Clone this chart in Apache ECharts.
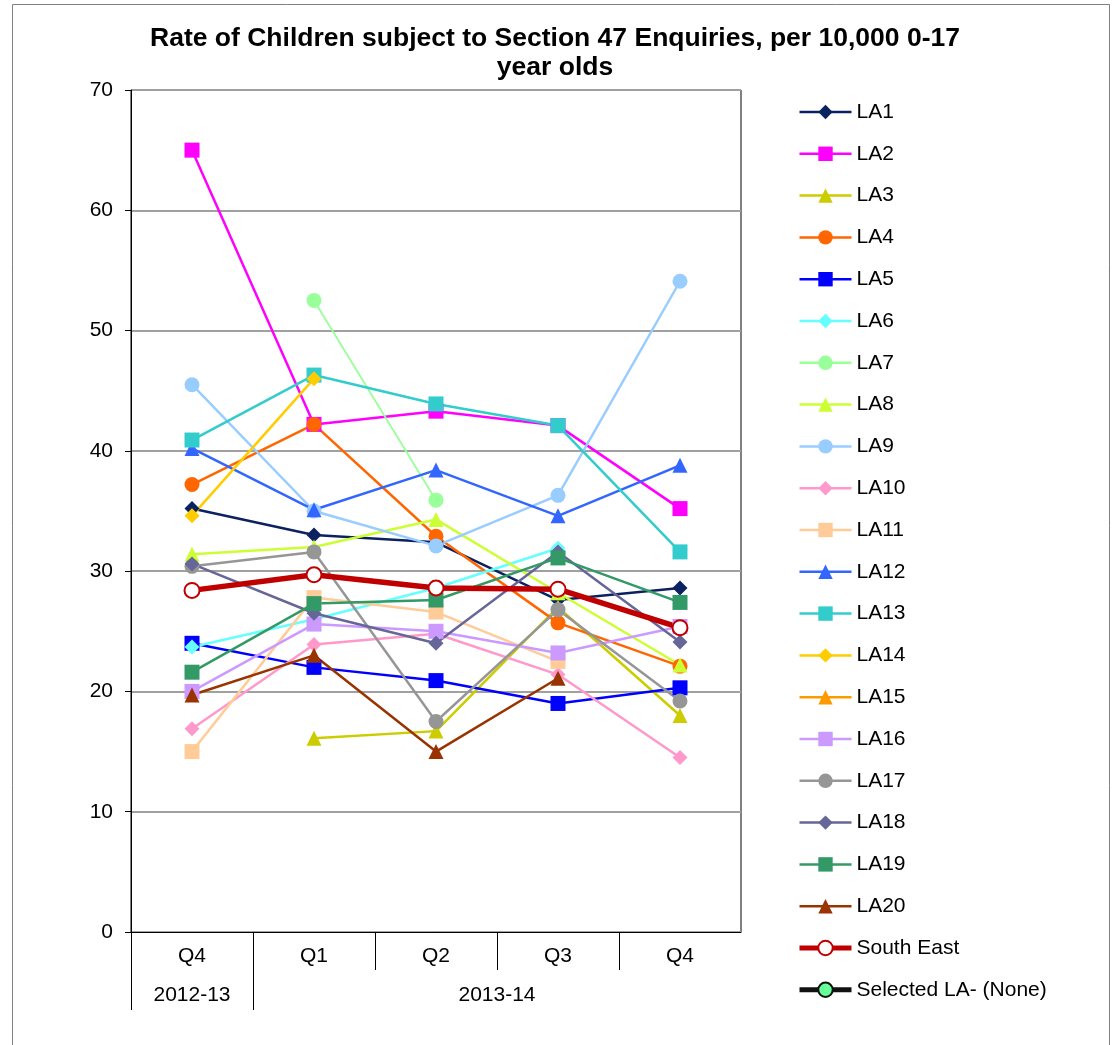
<!DOCTYPE html>
<html>
<head>
<meta charset="utf-8">
<script src="https://cdn.jsdelivr.net/npm/echarts@6/dist/echarts.min.js"></script>
<style>
html,body{margin:0;padding:0;background:#fff;}
#chart{width:1113px;height:1045px;}
</style>
</head>
<body>
<div id="chart"></div>
<script>
// ---- data ----
const quarters = ['Q4', 'Q1', 'Q2', 'Q3', 'Q4'];
const years = ['2012-13', '2013-14'];
const yTicks = [0, 10, 20, 30, 40, 50, 60, 70];

const LA1  = [35.2, 33.0, 32.4, 27.6, 28.6];
const LA2  = [65.0, 42.2, 43.3, 42.1, 35.2];
const LA3  = [null, 16.1, 16.7, 27.0, 18.0];
const LA4  = [37.2, 42.2, 32.9, 25.7, 22.1];
const LA5  = [24.0, 22.0, 20.9, 19.0, 20.3];
const LA6  = [23.7, 26.0, 28.6, 31.9, null];
const LA7  = [null, 52.5, 35.9, null, null];
const LA8  = [31.4, 32.0, 34.3, 28.2, 22.2];
const LA9  = [45.5, 35.0, 32.1, 36.3, 54.1];
const LA10 = [16.9, 23.9, 24.8, 21.4, 14.5];
const LA11 = [15.0, 27.8, 26.6, 22.5, null];
const LA12 = [40.2, 35.1, 38.4, 34.6, 38.8];
const LA13 = [40.9, 46.3, 43.9, 42.1, 31.6];
const LA14 = [34.6, 46.0, null, null, null];
const LA15 = [null, null, null, null, null];
const LA16 = [20.0, 25.6, 25.0, 23.2, 25.4];
const LA17 = [30.4, 31.6, 17.5, 26.8, 19.2];
const LA18 = [30.6, 26.5, 24.0, 31.6, 24.1];
const LA19 = [21.6, 27.3, 27.6, 31.1, 27.4];
const LA20 = [19.7, 23.0, 15.0, 21.1, null];
const SouthEast = [28.4, 29.7, 28.6, 28.5, 25.3];
const SelectedLA = [null, null, null, null, null];

const seriesDefs = [
  ['LA1', LA1, '#0c2260', 'diamond', 15],
  ['LA2', LA2, '#ff00ff', 'rect', 15],
  ['LA3', LA3, '#cccc00', 'triangle', 15],
  ['LA4', LA4, '#ff6600', 'circle', 15],
  ['LA5', LA5, '#0000ff', 'rect', 15],
  ['LA6', LA6, '#66ffff', 'diamond', 15],
  ['LA7', LA7, '#99ff99', 'circle', 15],
  ['LA8', LA8, '#ccff33', 'triangle', 15],
  ['LA9', LA9, '#99ccff', 'circle', 15],
  ['LA10', LA10, '#ff99cc', 'diamond', 15],
  ['LA11', LA11, '#ffcc99', 'rect', 15],
  ['LA12', LA12, '#3366ff', 'triangle', 15],
  ['LA13', LA13, '#33cccc', 'rect', 15],
  ['LA14', LA14, '#ffcc00', 'diamond', 15],
  ['LA15', LA15, '#ff9900', 'triangle', 15],
  ['LA16', LA16, '#cc99ff', 'rect', 15],
  ['LA17', LA17, '#969696', 'circle', 15],
  ['LA18', LA18, '#666699', 'diamond', 15],
  ['LA19', LA19, '#339966', 'rect', 15],
  ['LA20', LA20, '#993300', 'triangle', 15]
];

const FONT = 'Liberation Sans, Arial, sans-serif';

const series = seriesDefs.map(d => ({
  name: d[0], type: 'line', data: d[1],
  xAxisIndex: 0, yAxisIndex: 0,
  symbol: d[3], symbolSize: d[4],
  lineStyle: { color: d[2], width: d[0] === 'LA7' ? 1.8 : 2.5 },
  itemStyle: { color: d[2] },
  connectNulls: false, animation: false
}));
series.push({
  name: 'South East', type: 'line', data: SouthEast,
  symbol: 'circle', symbolSize: 15,
  lineStyle: { color: '#c00000', width: 5.5 },
  itemStyle: { color: '#ffffff', borderColor: '#c00000', borderWidth: 2 },
  animation: false
});
series.push({
  name: 'Selected LA- (None)', type: 'line', data: SelectedLA,
  symbol: 'circle', symbolSize: 13,
  lineStyle: { color: '#111111', width: 5.5 },
  itemStyle: { color: '#66ff99', borderColor: '#111111', borderWidth: 1.5 },
  animation: false
});

const legendData = series.map(s => ({
  name: s.name,
  lineStyle: { width: (s.name === 'South East' || s.name.indexOf('Selected') === 0) ? 5 : 2.5 }
}));

const chart = echarts.init(document.getElementById('chart'), null, { renderer: 'canvas' });
chart.setOption({
  backgroundColor: '#ffffff',
  animation: false,
  title: {
    text: 'Rate of Children subject to Section 47 Enquiries, per 10,000 0-17\nyear olds',
    left: 550, top: 19, textAlign: 'center',
    textStyle: { fontFamily: FONT, fontWeight: 'bold', fontSize: 26.5, color: '#000', lineHeight: 29 }
  },
  graphic: [{
    type: 'rect', shape: { x: 12.5, y: 4.5, width: 1097, height: 1060 },
    style: { fill: 'none', stroke: '#808080', lineWidth: 1 }, silent: true, z: -1
  }],
  legend: {
    orient: 'vertical', left: 792, top: 96.5,
    itemWidth: 52, itemHeight: 18, itemGap: 20.8,
    textStyle: { fontFamily: FONT, fontSize: 21, color: '#000' },
    data: legendData
  },
  grid: { left: 131, top: 90, right: 372, bottom: 113, show: true, borderColor: '#000', borderWidth: 1, backgroundColor: 'transparent' },
  xAxis: [
    {
      type: 'category', data: quarters, boundaryGap: true, position: 'bottom',
      axisLine: { show: true, lineStyle: { color: '#000', width: 1 } },
      axisTick: { show: false },
      axisLabel: { fontFamily: FONT, fontSize: 21, color: '#000', margin: 14, interval: 0 },
      splitLine: { show: false }
    },
    {
      type: 'value', min: 0, max: 10, position: 'bottom', offset: 0,
      axisLine: { show: false },
      axisTick: { show: true, customValues: [0, 2, 4, 6, 8], length: 38, lineStyle: { color: '#000', width: 1 } },
      axisLabel: { show: false },
      splitLine: { show: false }
    },
    {
      type: 'value', min: 0, max: 10, position: 'bottom', offset: 0,
      axisLine: { show: false },
      axisTick: { show: true, customValues: [0, 2], length: 78, lineStyle: { color: '#000', width: 1 } },
      axisLabel: {
        show: true, customValues: [1, 6], margin: 53,
        fontFamily: FONT, fontSize: 21, color: '#000',
        formatter: v => (v === 1 ? years[0] : years[1])
      },
      splitLine: { show: false }
    }
  ],
  yAxis: {
    type: 'value', min: yTicks[0], max: yTicks[yTicks.length - 1], interval: 10,
    axisLine: { show: true, lineStyle: { color: '#000', width: 1 } },
    axisTick: { show: true, length: 6, lineStyle: { color: '#000' } },
    axisLabel: { fontFamily: FONT, fontSize: 21, color: '#000', margin: 18 },
    splitLine: { show: true, lineStyle: { color: '#a0a0a0', width: 2 } }
  },
  series: series
});
</script>
</body>
</html>
